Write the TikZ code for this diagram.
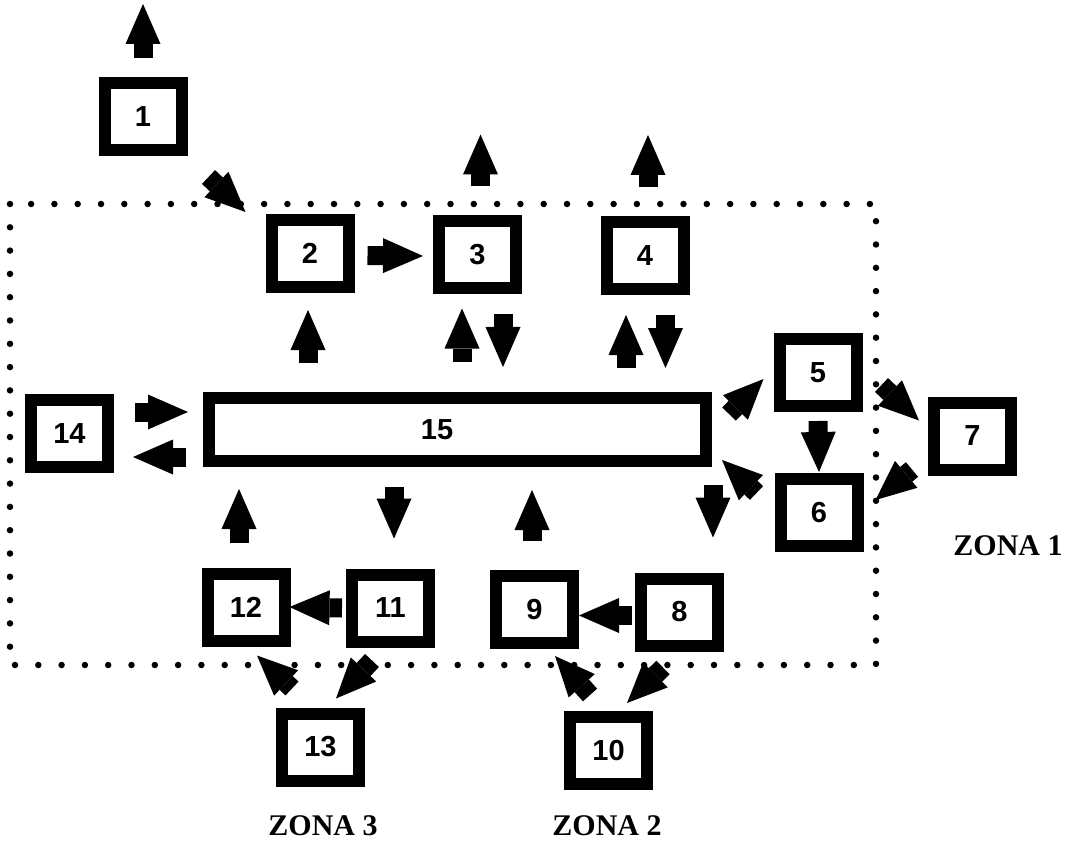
\documentclass[tikz,border=0pt]{standalone}
\usepackage{fontspec}
\newfontfamily\numfont{Liberation Sans}
\newfontfamily\zonafont{Liberation Serif}
\usetikzlibrary{arrows.meta,calc}
\begin{document}
\begin{tikzpicture}[x=1pt,y=-1pt,
  box/.style={draw,line width=12pt,minimum width=77pt,minimum height=67pt,inner sep=0pt,
    font=\numfont\bfseries\fontsize{29}{31}\selectfont},
  numtext/.style={inner sep=0pt,font=\numfont\bfseries\fontsize{29}{31}\selectfont},
  fat/.style={line width=19pt,-{Triangle[length=40pt,width=35pt,line width=0pt]}},
  zone/.style={inner sep=0pt,font=\zonafont\bfseries\fontsize{30}{32}\selectfont},
  dots/.style={line width=6.5pt,line cap=round,dash pattern=on 0pt off 23.3pt}]
\useasboundingbox (0,0) rectangle (1078,858);

% zone boundary
\draw[dots] (10,204) rectangle (876,665);

% boxes
\node[box] (b1) at (143,116.5) {1};
\node[box] (b2) at (310,253.5) {2};
\node[box] (b3) at (477.5,255) {3};
\node[box] (b4) at (645,255.5) {4};
\node[box] (b5) at (818,372.5) {5};
\node[box] (b6) at (819,512.5) {6};
\node[box] (b7) at (972.5,436) {7};
\node[box] (b8) at (679.5,612) {8};
\node[box] (b9) at (534.5,609.5) {9};
\node[box] (b10) at (608.5,750.5) {10};
\node[box] (b11) at (390.5,608) {11};
\node[box] (b12) at (246,607) {12};
\node[box] (b13) at (320.5,747) {13};
\node[box] (b14) at (69.5,433.5) {14};
\node[box,minimum width=497pt,minimum height=63pt] (b15) at (457.5,429.5) {};
\node[numtext] (t15) at (437,430) {15};

% arrows
\draw[fat] ([shift={(0,-19)}]b1.north) -- ++(0,-54);
\draw[fat] ([shift={(21,21)}]b1.south east) -- ([shift={(-20,-2)}]b2.north west);
\draw[fat] ([shift={(13,2)}]b2.east) -- ([shift={(-10,1)}]b3.west);
\draw[fat] ([shift={(3,-29)}]b3.north) -- ++(0,-52);
\draw[fat] ([shift={(3,-29)}]b4.north) -- ++(0,-52);
\draw[fat] ($(b15.north -| b2.south)+(-2,-29)$) -- ([shift={(-2,17)}]b2.south);
\draw[fat] ($(b15.north -| b3.south)+(-15.5,-30)$) -- ([shift={(-15.5,14)}]b3.south);
\draw[fat] ([shift={(25.5,20)}]b3.south) -- ($(b15.north -| b3.south)+(25.5,-25)$);
\draw[fat] ($(b15.north -| b4.south)+(-19,-24)$) -- ([shift={(-19,20)}]b4.south);
\draw[fat] ([shift={(20.5,20)}]b4.south) -- ($(b15.north -| b4.south)+(20.5,-24)$);
\draw[fat] ([shift={(17,22)}]b15.north east) -- ([shift={(-10,6.5)}]b5.west);
\draw[fat] ([shift={(0,9)}]b5.south) -- ([shift={(0,-1)}]b6.north);
\draw[fat] ([shift={(19,12.5)}]b5.east) -- ([shift={(-9,24)}]b7.north west);
\draw[fat] ([shift={(-16,-6)}]b7.south west) -- ([shift={(12,-12.5)}]b6.east);
\draw[fat] ([shift={(-18,-19.5)}]b6.west) -- ([shift={(10,-7)}]b15.south east);
\draw[fat] ([shift={(21,-21.5)}]b14.east) -- ($(b15.west |- b14.east)+(-15,-21.5)$);
\draw[fat] ($(b15.west |- b14.east)+(-17,23.5)$) -- ([shift={(19,23.5)}]b14.east);
\draw[fat] ([shift={(-7,-25)}]b12.north) -- ($(b15.south -| b12.north)+(-7,22)$);
\draw[fat] ($(b15.south -| b11.north)+(3.5,20)$) -- ([shift={(3.5,-30)}]b11.north);
\draw[fat] ([shift={(-2.5,-29)}]b9.north) -- ($(b15.south -| b9.north)+(-2.5,23)$);
\draw[fat] ($(b15.south -| b8.north)+(33.5,18)$) -- ([shift={(33.5,-35)}]b8.north);
\draw[fat] ([shift={(-4,0)}]b11.west) -- ([shift={(-1,0)}]b12.east);
\draw[fat] ([shift={(-3,3.5)}]b8.west) -- ([shift={(0,6)}]b9.east);
\draw[fat] ([shift={(16,-19)}]b13.north west) -- ([shift={(11,9)}]b12.south);
\draw[fat] ([shift={(-18.5,13)}]b11.south) -- ([shift={(15.5,-9)}]b13.north);
\draw[fat] ([shift={(-18.5,-16)}]b10.north) -- ([shift={(20.5,7)}]b9.south);
\draw[fat] ([shift={(-16.5,16)}]b8.south) -- ([shift={(18.5,-8)}]b10.north);

% zone labels
\node[zone] (z1) at (1008,546) {ZONA 1};
\node[zone] (z3) at (323,826) {ZONA 3};
\node[zone] (z2) at (607,826) {ZONA 2};
\end{tikzpicture}
\end{document}
